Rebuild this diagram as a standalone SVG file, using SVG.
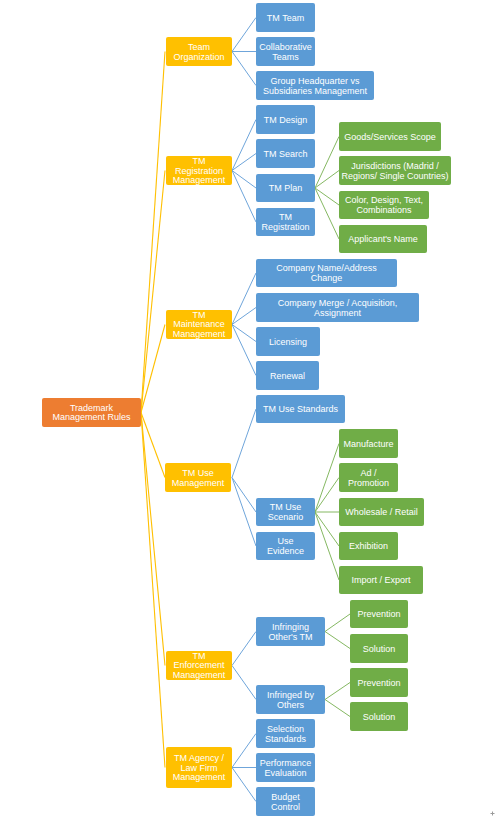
<svg xmlns="http://www.w3.org/2000/svg" width="495" height="824" viewBox="0 0 495 824">
<style>
.n rect{rx:2;ry:2}
.r rect{fill:#ED7D31}
.y rect{fill:#FFC000}
.b rect{fill:#5B9BD5}
.g rect{fill:#70AD47}
text{font-family:"Liberation Sans",Arial,sans-serif;font-size:9px;fill:#FFFFFF;text-anchor:middle}
.cy line{stroke:#FFC000;stroke-width:1.1}
.cb line{stroke:#6FA5DA;stroke-width:1}
.cg line{stroke:#85B862;stroke-width:1}
</style>
<rect width="495" height="824" fill="#FFFFFF"/>
<g id="connectors">
<g class="cy">
<line x1="141" y1="412.5" x2="165" y2="51.5"/>
<line x1="141" y1="412.5" x2="165" y2="170.5"/>
<line x1="141" y1="412.5" x2="165" y2="324.5"/>
<line x1="141" y1="412.5" x2="165" y2="477.5"/>
<line x1="141" y1="412.5" x2="165" y2="665.5"/>
<line x1="141" y1="412.5" x2="165" y2="767.5"/>
</g>
<g class="cb">
<line x1="232" y1="51.5" x2="256" y2="17.5"/>
<line x1="232" y1="51.5" x2="256" y2="51.5"/>
<line x1="232" y1="51.5" x2="256" y2="85.5"/>
<line x1="232" y1="170.5" x2="256" y2="119.5"/>
<line x1="232" y1="170.5" x2="256" y2="153.5"/>
<line x1="232" y1="170.5" x2="256" y2="188"/>
<line x1="232" y1="170.5" x2="256" y2="222"/>
<line x1="232" y1="324.5" x2="256" y2="273"/>
<line x1="232" y1="324.5" x2="256" y2="307.5"/>
<line x1="232" y1="324.5" x2="256" y2="341.5"/>
<line x1="232" y1="324.5" x2="256" y2="375.5"/>
<line x1="232" y1="477.5" x2="256" y2="409"/>
<line x1="232" y1="477.5" x2="256" y2="512"/>
<line x1="232" y1="477.5" x2="256" y2="546"/>
<line x1="232" y1="665.5" x2="256" y2="631.5"/>
<line x1="232" y1="665.5" x2="256" y2="699.5"/>
<line x1="232" y1="767.5" x2="256" y2="733.5"/>
<line x1="232" y1="767.5" x2="256" y2="767.5"/>
<line x1="232" y1="767.5" x2="256" y2="801.5"/>
</g>
<g class="cg">
<line x1="315" y1="188" x2="339" y2="136.5"/>
<line x1="315" y1="188" x2="339" y2="170.5"/>
<line x1="315" y1="188" x2="339" y2="205"/>
<line x1="315" y1="188" x2="339" y2="239"/>
<line x1="315" y1="512" x2="339" y2="443.5"/>
<line x1="315" y1="512" x2="339" y2="477.5"/>
<line x1="315" y1="512" x2="339" y2="512"/>
<line x1="315" y1="512" x2="339" y2="546"/>
<line x1="315" y1="512" x2="339" y2="580"/>
<line x1="325" y1="631.5" x2="350" y2="614"/>
<line x1="325" y1="631.5" x2="350" y2="648.5"/>
<line x1="325" y1="699.5" x2="350" y2="682.5"/>
<line x1="325" y1="699.5" x2="350" y2="716.5"/>
</g>
</g>

<g id="root" class="n r"><rect x="42" y="398" width="99" height="29"/><text x="91.5" y="410.7">Trademark<tspan x="91.5" dy="9.6">Management Rules</tspan></text></g>

<g id="team-organization" class="n y"><rect x="166" y="37" width="66" height="29"/><text x="199" y="49.9">Team<tspan x="199" dy="9.6">Organization</tspan></text></g>
<g id="tm-registration-management" class="n y"><rect x="166" y="156" width="66" height="29"/><text x="199" y="164.1">TM<tspan x="199" dy="9.6">Registration</tspan><tspan x="199" dy="9.6">Management</tspan></text></g>
<g id="tm-maintenance-management" class="n y"><rect x="166" y="310" width="66" height="29"/><text x="199" y="317.5">TM<tspan x="199" dy="9.6">Maintenance</tspan><tspan x="199" dy="9.6">Management</tspan></text></g>
<g id="tm-use-management" class="n y"><rect x="165" y="463" width="66" height="29"/><text x="198" y="475.9">TM Use<tspan x="198" dy="9.6">Management</tspan></text></g>
<g id="tm-enforcement-management" class="n y"><rect x="166" y="651" width="66" height="29"/><text x="199" y="658.5">TM<tspan x="199" dy="9.6">Enforcement</tspan><tspan x="199" dy="9.6">Management</tspan></text></g>
<g id="tm-agency-management" class="n y"><rect x="166" y="747" width="66" height="41"/><text x="199" y="761.1">TM Agency /<tspan x="199" dy="9.6">Law Firm</tspan><tspan x="199" dy="9.6">Management</tspan></text></g>

<g id="tm-team" class="n b"><rect x="256" y="3" width="59" height="29"/><text x="285.5" y="20.7">TM Team</text></g>
<g id="collaborative-teams" class="n b"><rect x="256" y="37" width="59" height="29"/><text x="285.5" y="49.9">Collaborative<tspan x="285.5" dy="9.6">Teams</tspan></text></g>
<g id="group-hq" class="n b"><rect x="256" y="71" width="118" height="29"/><text x="315" y="83.9">Group Headquarter vs<tspan x="315" dy="9.6">Subsidiaries Management</tspan></text></g>
<g id="tm-design" class="n b"><rect x="256" y="105" width="59" height="29"/><text x="285.5" y="122.7">TM Design</text></g>
<g id="tm-search" class="n b"><rect x="256" y="139" width="59" height="29"/><text x="285.5" y="156.7">TM Search</text></g>
<g id="tm-plan" class="n b"><rect x="256" y="174" width="59" height="28"/><text x="285.5" y="191.2">TM Plan</text></g>
<g id="tm-registration" class="n b"><rect x="256" y="208" width="59" height="28"/><text x="285.5" y="220.4">TM<tspan x="285.5" dy="9.6">Registration</tspan></text></g>
<g id="company-name-change" class="n b"><rect x="256" y="259" width="141" height="28"/><text x="326.5" y="271.4">Company Name/Address<tspan x="326.5" dy="9.6">Change</tspan></text></g>
<g id="company-merge" class="n b"><rect x="256" y="293" width="163" height="29"/><text x="337.5" y="305.9">Company Merge / Acquisition,<tspan x="337.5" dy="9.6">Assignment</tspan></text></g>
<g id="licensing" class="n b"><rect x="256" y="327" width="64" height="29"/><text x="288" y="344.7">Licensing</text></g>
<g id="renewal" class="n b"><rect x="256" y="361" width="63" height="29"/><text x="287.5" y="378.7">Renewal</text></g>
<g id="tm-use-standards" class="n b"><rect x="256" y="395" width="89" height="28"/><text x="300.5" y="412.2">TM Use Standards</text></g>
<g id="tm-use-scenario" class="n b"><rect x="256" y="498" width="59" height="28"/><text x="285.5" y="510.4">TM Use<tspan x="285.5" dy="9.6">Scenario</tspan></text></g>
<g id="use-evidence" class="n b"><rect x="256" y="532" width="59" height="28"/><text x="285.5" y="544.4">Use<tspan x="285.5" dy="9.6">Evidence</tspan></text></g>
<g id="infringing-others-tm" class="n b"><rect x="256" y="617" width="69" height="29"/><text x="290.5" y="629.9">Infringing<tspan x="290.5" dy="9.6">Other's TM</tspan></text></g>
<g id="infringed-by-others" class="n b"><rect x="256" y="685" width="69" height="29"/><text x="290.5" y="697.9">Infringed by<tspan x="290.5" dy="9.6">Others</tspan></text></g>
<g id="selection-standards" class="n b"><rect x="256" y="719" width="59" height="29"/><text x="285.5" y="731.9">Selection<tspan x="285.5" dy="9.6">Standards</tspan></text></g>
<g id="performance-evaluation" class="n b"><rect x="256" y="753" width="59" height="29"/><text x="285.5" y="765.9">Performance<tspan x="285.5" dy="9.6">Evaluation</tspan></text></g>
<g id="budget-control" class="n b"><rect x="256" y="787" width="59" height="29"/><text x="285.5" y="799.9">Budget<tspan x="285.5" dy="9.6">Control</tspan></text></g>

<g id="goods-services-scope" class="n g"><rect x="339" y="122" width="102" height="29"/><text x="390" y="139.7">Goods/Services Scope</text></g>
<g id="jurisdictions" class="n g"><rect x="339" y="156" width="112" height="29"/><text x="395" y="168.9">Jurisdictions (Madrid /<tspan x="395" dy="9.6">Regions/ Single Countries)</tspan></text></g>
<g id="color-design-text" class="n g"><rect x="339" y="191" width="90" height="28"/><text x="384" y="203.4">Color, Design, Text,<tspan x="384" dy="9.6">Combinations</tspan></text></g>
<g id="applicants-name" class="n g"><rect x="339" y="225" width="88" height="28"/><text x="383" y="242.2">Applicant's Name</text></g>
<g id="manufacture" class="n g"><rect x="339" y="429" width="59" height="29"/><text x="368.5" y="446.7">Manufacture</text></g>
<g id="ad-promotion" class="n g"><rect x="339" y="463" width="59" height="29"/><text x="368.5" y="475.9">Ad /<tspan x="368.5" dy="9.6">Promotion</tspan></text></g>
<g id="wholesale-retail" class="n g"><rect x="339" y="498" width="85" height="28"/><text x="381.5" y="515.2">Wholesale / Retail</text></g>
<g id="exhibition" class="n g"><rect x="339" y="532" width="59" height="28"/><text x="368.5" y="549.2">Exhibition</text></g>
<g id="import-export" class="n g"><rect x="339" y="566" width="84" height="28"/><text x="381" y="583.2">Import / Export</text></g>
<g id="prevention-1" class="n g"><rect x="350" y="600" width="58" height="28"/><text x="379" y="617.2">Prevention</text></g>
<g id="solution-1" class="n g"><rect x="350" y="634" width="58" height="29"/><text x="379" y="651.7">Solution</text></g>
<g id="prevention-2" class="n g"><rect x="350" y="668" width="58" height="29"/><text x="379" y="685.7">Prevention</text></g>
<g id="solution-2" class="n g"><rect x="350" y="702" width="58" height="29"/><text x="379" y="719.7">Solution</text></g>

<path d="M490.5 813.5h4M492.5 811.5v4" stroke="#9A9A9A" stroke-width="1" fill="none"/>
</svg>
